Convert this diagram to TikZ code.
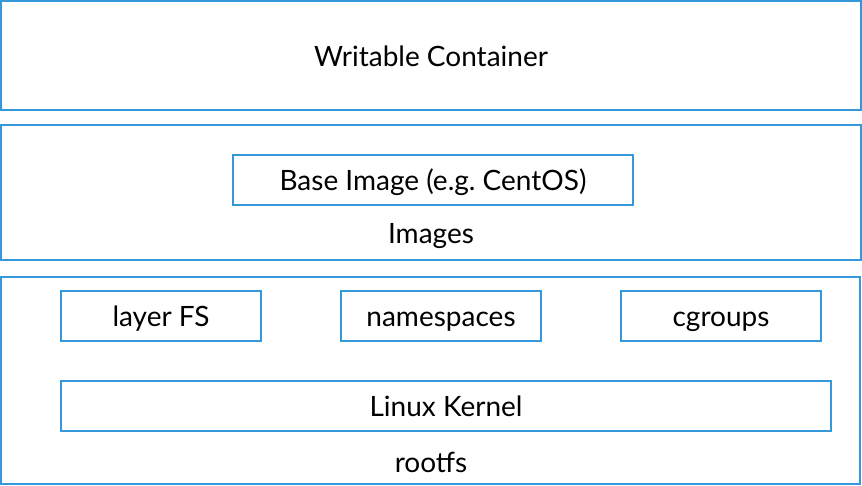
\documentclass[tikz,border=0pt]{standalone}
\usepackage{fontspec}
\setmainfont{Lato}
\frenchspacing
\definecolor{boxblue}{HTML}{3498DB}
\tikzset{
  layerbox/.style={draw=boxblue, line width=2pt},
  inbox/.style={layerbox, minimum height=50pt, inner sep=0pt, text height=20pt, text depth=0pt, font=\fontsize{28}{30}\selectfont},
  lbl/.style={font=\fontsize{28}{30}\selectfont, text=black, inner sep=0pt, anchor=base}
}
\begin{document}
\begin{tikzpicture}[x=1pt,y=-1pt]
\useasboundingbox (0,0) rectangle (862,485);
% outer layers
\draw[layerbox] (1,1) rectangle (861,110);
\node[lbl] (wc) at (431,66) {Writable Container};
\draw[layerbox] (1,125) rectangle (861,260);
\node[inbox, minimum width=400pt] (base) at (433,180) {Base Image (e.g. CentOS)};
\node[lbl] (img) at (431,243) {Images};
\draw[layerbox] (1,277) rectangle (860,484);
\node[inbox, minimum width=200pt] (lfs) at (161,316) {layer FS};
\node[inbox, minimum width=200pt] (ns) at (441,316) {namespaces};
\node[inbox, minimum width=200pt] (cg) at (721,316) {cgroups};
\node[inbox, minimum width=770pt] (lk) at (446,406) {Linux Kernel};
\node[lbl] (rfs) at (431,472) {rootfs};
\end{tikzpicture}
\end{document}
